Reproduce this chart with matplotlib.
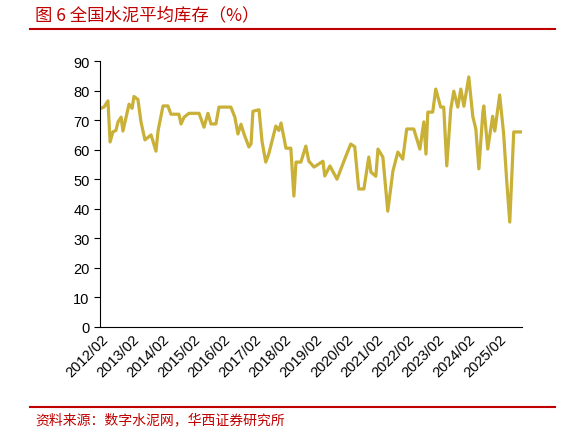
import matplotlib.pyplot as plt
from matplotlib.lines import Line2D

plt.rcParams['font.family'] = ['Liberation Sans', 'Noto Sans CJK SC', 'DejaVu Sans']

# fractional year, inventory (%)
years = [2012.08, 2012.18, 2012.31, 2012.38, 2012.47, 2012.57, 2012.64, 2012.74, 2012.80,
         2013.00, 2013.10, 2013.16, 2013.29, 2013.39, 2013.52, 2013.72, 2013.88, 2013.95,
         2014.11, 2014.27, 2014.37, 2014.63, 2014.70, 2014.80, 2014.96, 2015.29, 2015.45,
         2015.58, 2015.68, 2015.84, 2015.94, 2016.33, 2016.46, 2016.56, 2016.66, 2016.76,
         2016.92, 2016.99, 2017.05, 2017.25, 2017.35, 2017.47, 2017.57, 2017.80, 2017.90,
         2017.97, 2018.06, 2018.13, 2018.29, 2018.39, 2018.46, 2018.62, 2018.78, 2018.88,
         2019.05, 2019.34, 2019.40, 2019.57, 2019.80, 2019.93, 2020.09, 2020.25, 2020.38,
         2020.51, 2020.68, 2020.84, 2020.91, 2021.07, 2021.14, 2021.30, 2021.46, 2021.63,
         2021.79, 2021.95, 2022.08, 2022.31, 2022.51, 2022.64, 2022.71, 2022.77, 2022.93,
         2023.03, 2023.19, 2023.29, 2023.39, 2023.52, 2023.62, 2023.75, 2023.85, 2023.95,
         2024.11, 2024.24, 2024.34, 2024.44, 2024.57, 2024.60, 2024.73, 2024.89, 2024.96,
         2025.12, 2025.25, 2025.35, 2025.45, 2025.58, 2025.81]
values = [74, 74.4, 76.5, 62.6, 66, 66.5, 69.4, 71, 66.3,
          75.4, 74, 78, 77, 69.4, 63.3, 65, 59.5, 66.5,
          74.8, 74.8, 72, 72, 68.7, 71, 72.3, 72.3, 67.6,
          72.3, 68.7, 68.7, 74.4, 74.4, 71, 65.3, 68.6, 65.3,
          60.9, 62, 73, 73.5, 62.7, 55.8, 58.6, 68, 66.5,
          69, 64.3, 60.5, 60.5, 44.3, 55.8, 55.8, 61.2, 56.1,
          54.1, 56.1, 51.1, 54.5, 50, 53.5, 57.8, 61.9, 61,
          46.7, 46.7, 57.5, 52.4, 51, 60.2, 57.5, 39.2, 52.8,
          59.2, 56.8, 67, 67, 60.2, 69.4, 58.5, 72.7, 72.7,
          80.5, 74.4, 74.4, 54.5, 73.7, 79.8, 74.4, 80.5, 74.7,
          84.6, 71.3, 67, 53.5, 72.7, 74.8, 60.2, 71.3, 66.3,
          78.5, 65.3, 49.4, 35.5, 66, 66]

tick_years = list(range(2012, 2026))
tick_labels = [f'{y}/02' for y in tick_years]

red = '#C00000'
cjk = ['Noto Sans CJK SC', 'DejaVu Sans']
fig = plt.figure(figsize=(5.63, 4.35), dpi=100)
ax = fig.add_axes([100/563, 1-328/435, 422/563, 266/435])
ax.plot(years, values, color='#C9B037', lw=2.3)
ax.set_ylim(0, 90)
ax.set_yticks(range(0, 91, 10))
ax.set_xlim(2012.05, 2025.85)
ax.set_xticks([y + 1/12 for y in tick_years])
ax.set_xticklabels(tick_labels, rotation=45, ha='right', rotation_mode='anchor')
ax.tick_params(labelsize=10.5, direction='out', length=4)
ax.tick_params(axis='x', length=0)
for s in ['top', 'right']:
    ax.spines[s].set_visible(False)

fig.text(35/563, 1-15/435, '图 6 全国水泥平均库存（%）', color=red, fontsize=12.5, va='center', family=cjk)
fig.add_artist(Line2D([30/563, 555/563], [1-30/435, 1-30/435], color=red, lw=1.5))
fig.add_artist(Line2D([30/563, 555/563], [1-408/435, 1-408/435], color=red, lw=1.5))
fig.text(35/563, 1-420/435, '资料来源：数字水泥网，华西证券研究所', color=red, fontsize=10, va='center', family=cjk)

fig.savefig('out.png', dpi=100)
